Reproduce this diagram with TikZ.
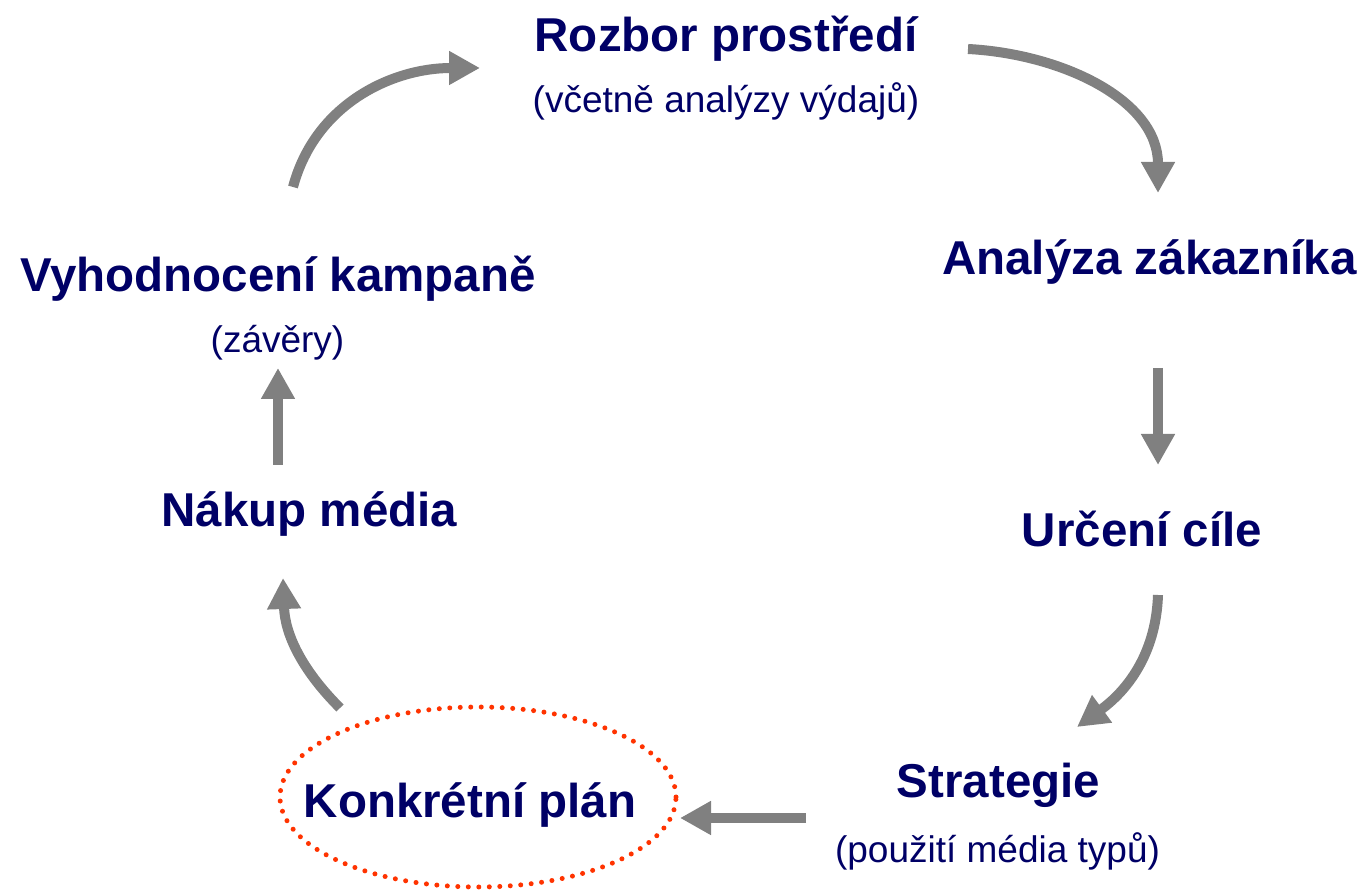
\documentclass[tikz,border=0pt]{standalone}
\usepackage{fontspec}
\setmainfont{Liberation Sans}
\usetikzlibrary{arrows.meta,shapes.geometric}
\definecolor{PlanNavy}{HTML}{000066}
\definecolor{ArrowGrey}{HTML}{808080}
\definecolor{DotRed}{HTML}{FF3300}

\begin{document}
\begin{tikzpicture}[x=1pt,y=1pt,
    title/.style={anchor=base,inner sep=0pt,text=PlanNavy,font=\fontsize{47.5}{57}\selectfont\bfseries},
    note/.style={anchor=base,inner sep=0pt,text=PlanNavy,font=\fontsize{37}{44}\selectfont},
    arr/.style={-{Triangle[width=32pt,length=31pt]},line width=10pt,ArrowGrey},
    ring/.style={ellipse,draw=DotRed,line width=5pt,line cap=round,dash pattern=on 0pt off 10.5pt,
    minimum width=396pt,minimum height=180pt,inner sep=0pt}]
    \useasboundingbox (0,0) rectangle (1359,891);
    % steps of the cycle
    \node[title] (rozbor) at (726,839) {Rozbor prostředí};
    \node[note] (rozborsub) at (726,778) {(včetně analýzy výdajů)};
    \node[title] (analyza) at (1149.5,616) {Analýza zákazníka};
    \node[title] (urceni) at (1142,344) {Určení cíle};
    \node[title] (strategie) at (998.5,93) {Strategie};
    \node[note] (strategiesub) at (997.5,29) {(použití média typů)};
    \node[ring] (planring) at (478,94) {};
    \node[title] (plan) at (470,73) {Konkrétní plán};
    \node[title] (nakup) at (309.5,364) {Nákup média};
    \node[title] (vyhod) at (278,599) {Vyhodnocení kampaně};
    \node[note] (vyhodsub) at (277.5,538) {(závěry)};
    % arrow ends
    \coordinate (vyhod-out) at (293,704);
    \coordinate (rozbor-in) at (480,823);
    \coordinate (rozbor-out) at (968,842);
    \coordinate (analyza-in) at (1158,698);
    \coordinate (analyza-out) at (1158,523);
    \coordinate (urceni-in) at (1158,426);
    \coordinate (urceni-out) at (1158,296);
    \coordinate (strategie-in) at (1077,164);
    \coordinate (strategie-out) at (806,73);
    \coordinate (plan-in) at (680,73);
    \coordinate (plan-out) at (340,183);
    \coordinate (nakup-in) at (283,313);
    \coordinate (nakup-out) at (278,426);
    \coordinate (vyhod-in) at (278,523);
    \draw[arr] (vyhod-out) to[out=75,in=180] (rozbor-in);
    \draw[arr] (rozbor-out) to[out=-3,in=90] (analyza-in);
    \draw[arr] (analyza-out) -- (urceni-in);
    \draw[arr] (urceni-out) to[out=-92,in=36] (strategie-in);
    \draw[arr] (strategie-out) -- (plan-in);
    \draw[arr] (plan-out) to[out=135,in=-88] (nakup-in);
    \draw[arr] (nakup-out) -- (vyhod-in);
\end{tikzpicture}
\end{document}
